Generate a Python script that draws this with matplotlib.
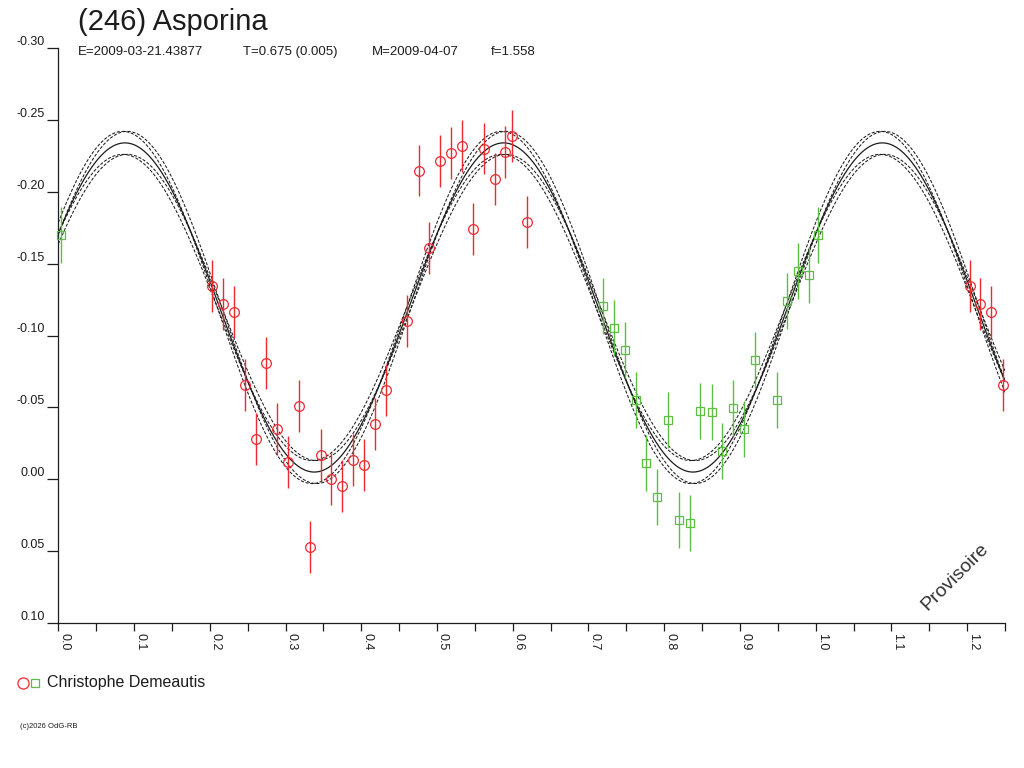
"""
Lightcurve of (246) Asporina, folded on the rotation period,
with the Fourier fit and its uncertainty envelope.
Produces: out.png
"""

import matplotlib
matplotlib.use("Agg")
import matplotlib.pyplot as plt
from matplotlib.lines import Line2D
import numpy as np

plt.rcParams["font.family"] = ["Liberation Sans", "DejaVu Sans"]

TITLE = "(246) Asporina"
SUBTITLE = ["E=2009-03-21.43877", "T=0.675 (0.005)", "M=2009-04-07", "f=1.558"]
OBSERVER = "Christophe Demeautis"
CREDIT = "(c)2026 OdG-RB"
STAMP = "Provisoire"

# session 1 (red circles): phase, relative magnitude
red_phase = [0.2034, 0.2176, 0.2317, 0.2471, 0.2612, 0.2748, 0.2893, 0.3034,
             0.3180, 0.3325, 0.3466, 0.3607, 0.3752, 0.3893, 0.4034, 0.4184,
             0.4325, 0.4610, 0.4756, 0.4897, 0.5042, 0.5184, 0.5324, 0.5474,
             0.5620, 0.5760, 0.5901, 0.5997, 0.6192]
red_mag = [-0.1346, -0.1217, -0.1166, -0.0656, -0.0280, -0.0809, -0.0350, -0.0122,
           -0.0510, 0.0469, -0.0171, 0.0000, 0.0049, -0.0132, -0.0101, -0.0382,
           -0.0621, -0.1101, -0.2147, -0.1611, -0.2216, -0.2270, -0.2318, -0.1743,
           -0.2300, -0.2091, -0.2274, -0.2390, -0.1792]
red_err = 0.018

# session 2 (green squares)
green_phase = [0.0036, 0.7186, 0.7332, 0.7477, 0.7622, 0.7764, 0.7905, 0.8050,
               0.8196, 0.8336, 0.8477, 0.8626, 0.8768, 0.8909, 0.9054, 0.9194,
               0.9485, 0.9626, 0.9767, 0.9913]
green_mag = [-0.1699, -0.1207, -0.1050, -0.0901, -0.0553, -0.0115, 0.0121, -0.0412,
             0.0281, 0.0302, -0.0477, -0.0470, -0.0199, -0.0498, -0.0352, -0.0832,
             -0.0553, -0.1240, -0.1451, -0.1423]
green_err = 0.0195

# fitted lightcurve (2nd harmonic) and its envelope
fit_mean = -0.1195
fit_amp = 0.1145
fit_peak = 0.088
env_damp = 0.008
env_dphase = 0.003

ytick_vals = [-0.30, -0.25, -0.20, -0.15, -0.10, -0.05, 0.00, 0.05, 0.10]
ytick_labels = ["-0.30", "-0.25", "-0.20", "-0.15", "-0.10", "-0.05", "0.00", "0.05", "0.10"]
xtick_vals = [0.0, 0.1, 0.2, 0.3, 0.4, 0.5, 0.6, 0.7, 0.8, 0.9, 1.0, 1.1, 1.2]
xtick_labels = ["0.0", "0.1", "0.2", "0.3", "0.4", "0.5", "0.6", "0.7", "0.8", "0.9", "1.0", "1.1", "1.2"]
xminor_vals = [0.05, 0.15, 0.25, 0.35, 0.45, 0.55, 0.65, 0.75, 0.85, 0.95, 1.05, 1.15, 1.25]

RED = "#ee2a30"
GREEN = "#5cbf44"
INK = "#1c1c1c"
W, H = 1024, 768
PHASE_MAX = 1.25


def model(ph, amp, peak):
    return fit_mean - amp * np.cos(4 * np.pi * (ph - peak))


def folded(phase, mag):
    # repeat points whose phase+1 still falls inside the plotted range
    ph = np.asarray(phase); m = np.asarray(mag)
    extra = ph + 1 <= PHASE_MAX
    return np.concatenate([ph, ph[extra] + 1]), np.concatenate([m, m[extra]])


def fx(px):
    return px / W


def fy(py):
    return 1 - py / H


def main():
    fig = plt.figure(figsize=(W / 100, H / 100), dpi=100)
    ax = fig.add_axes([fx(58.3), fy(623), fx(1005 - 58.3), (623 - 48) / H])

    ph = np.linspace(0, PHASE_MAX, 1200)
    ax.plot(ph, model(ph, fit_amp, fit_peak), color=INK, lw=0.9, zorder=2)
    for da in (env_damp, -env_damp):
        for dp in (env_dphase, -env_dphase):
            ax.plot(ph, model(ph, fit_amp + da, fit_peak + dp), color=INK,
                    lw=0.75, dashes=(3, 1.6), zorder=2)

    x, y = folded(red_phase, red_mag)
    ax.errorbar(x, y, yerr=red_err, fmt="o", ms=7, mfc="none", mec=RED, mew=0.9,
                ecolor=RED, elinewidth=1, capsize=0, zorder=3, clip_on=False)
    x, y = folded(green_phase, green_mag)
    ax.errorbar(x, y, yerr=green_err, fmt="s", ms=5.3, mfc="none", mec=GREEN, mew=0.9,
                ecolor=GREEN, elinewidth=1, capsize=0, zorder=3, clip_on=False)

    ax.set_xlim(0, PHASE_MAX)
    ax.set_ylim(0.10, -0.30)
    for s in ("top", "right"):
        ax.spines[s].set_visible(False)
    for s in ("left", "bottom"):
        ax.spines[s].set_color(INK); ax.spines[s].set_linewidth(0.9)

    ax.set_yticks(ytick_vals, ytick_labels)
    ax.set_xticks(xtick_vals, xtick_labels)
    ax.set_xticks(xminor_vals, minor=True)
    ax.tick_params(axis="y", length=8, width=0.9, pad=1.5, labelsize=9, colors=INK)
    ax.tick_params(axis="x", which="both", length=6, width=0.9, pad=1.5,
                   labelsize=9, colors=INK, labelrotation=-90)
    for lab in ax.get_yticklabels():
        lab.set_verticalalignment("bottom")
    for lab in ax.get_xticklabels():
        lab.set_horizontalalignment("left")

    fig.text(fx(78), fy(30), TITLE, fontsize=21, color=INK, va="baseline")
    for txt, px in zip(SUBTITLE, (78, 243, 372, 491)):
        fig.text(fx(px), fy(55), txt, fontsize=9.5, color=INK, va="baseline")

    fig.text(fx(955), fy(577), STAMP, fontsize=14, color="#303030", rotation=45,
             ha="center", va="center")

    fig.add_artist(Line2D([fx(23)], [fy(683)], marker="o", ms=8, mfc="none",
                          mec=RED, mew=0.9, transform=fig.transFigure))
    fig.add_artist(Line2D([fx(35)], [fy(683)], marker="s", ms=5.6, mfc="none",
                          mec=GREEN, mew=0.9, transform=fig.transFigure))
    fig.text(fx(47), fy(683), OBSERVER, fontsize=11.5, color=INK, va="center")
    fig.text(fx(20), fy(726), CREDIT, fontsize=5.5, color=INK, va="center")

    fig.savefig("out.png", dpi=100)


if __name__ == "__main__":
    main()
